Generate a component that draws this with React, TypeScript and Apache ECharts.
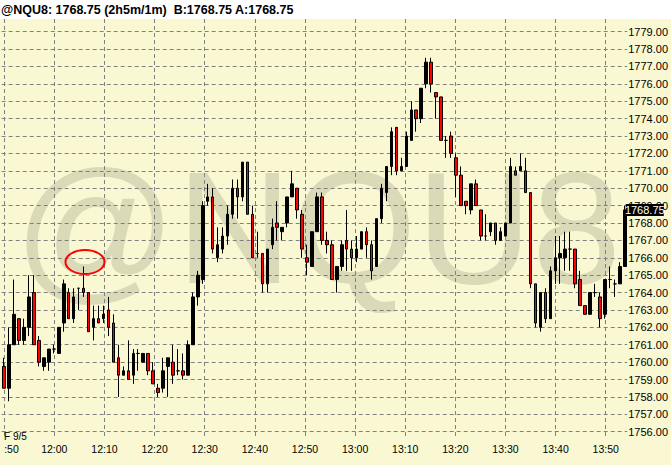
import React, { useEffect, useRef } from 'react';
import * as echarts from 'echarts';

const symbolName = '@NQU8';
const lastPrice = 1768.75;
const bidPrice = 1768.75;
const askPrice = 1768.75;
const tradeDate = 'F 9/5';
const startMinute = 11 * 60 + 50;
const barCount = 126;
const times = Array.from({ length: barCount }, (_, i) => {
  const m = startMinute + i;
  return `${Math.floor(m / 60)}:${String(m % 60).padStart(2, '0')}`;
});

const opens = [
  1759.75, 1758.5, 1761, 1762.5, 1761.25, 1762, 1764, 1761.25, 1759.75, 1760,
  1760.75, 1760.5, 1762.25, 1764, 1762.5, 1764.25, 1764.25, 1764, 1762, 1762.5,
  1762.5, 1763, 1762.25, 1760.25, 1759.25, 1759.5, 1759.25, 1760.5, 1760, 1760.5,
  1759.5, 1758.5, 1758.5, 1759.75, 1760, 1759.5, 1759.5, 1759.25, 1761, 1763.75,
  1764.75, 1769.25, 1769.5, 1766, 1766.5, 1767.25, 1768.5, 1770, 1769.5, 1771.5,
  1768.5, 1766.25, 1766.25, 1764.5, 1766.75, 1768, 1767.5, 1768, 1769.5, 1770,
  1768.5, 1766, 1765.5, 1767.5, 1769.5, 1767, 1766.75, 1764.75, 1765.5, 1767,
  1766.5, 1766, 1766.5, 1767.5, 1766.75, 1765.5, 1768.25, 1769.75, 1771.25, 1773.5,
  1771, 1771.25, 1772.75, 1774.5, 1774, 1776, 1777.25, 1775.5, 1775.25, 1772.75,
  1773, 1771.75, 1770.75, 1769.25, 1768.75, 1770.25, 1768.75, 1767.25, 1767.5, 1768,
  1767, 1767.25, 1768, 1771, 1771, 1771, 1769.75, 1764.5, 1762, 1764,
  1762.5, 1765.25, 1766, 1766, 1766.5, 1766.5, 1764.75, 1763.25, 1762.75, 1764,
  1763.75, 1762.75, 1764.75, 1764.5, 1764.5, 1765.5,
];
const closes = [
  1758.5, 1761, 1762.75, 1761.25, 1762, 1763.75, 1761, 1760, 1760.25, 1760.75,
  1760.75, 1762, 1764.5, 1762.5, 1763.75, 1764.25, 1764, 1761.75, 1762.5, 1762.25,
  1762.75, 1762, 1760, 1759.25, 1759.5, 1759, 1760.5, 1760.5, 1760.5, 1759.5,
  1758.75, 1758.25, 1759.5, 1760.25, 1759.25, 1759.5, 1759.25, 1761, 1763.75, 1765,
  1769, 1769.5, 1766.5, 1766.75, 1767.25, 1768.5, 1770, 1769.5, 1771.5, 1768.5,
  1766, 1766.25, 1764.5, 1766.5, 1767.75, 1767.75, 1767.75, 1769.5, 1770.25, 1768.75,
  1766.5, 1765.75, 1767.5, 1769.5, 1767, 1766.75, 1764.75, 1765.5, 1766.75, 1766.5,
  1766, 1766.5, 1767.5, 1766.75, 1765.25, 1768.25, 1770, 1771.25, 1773.25, 1771,
  1771.25, 1773, 1774.5, 1774, 1775.75, 1777.25, 1776, 1775.25, 1772.75, 1772.75,
  1772, 1770.75, 1769, 1769, 1770.25, 1769, 1767.25, 1767.25, 1768, 1767,
  1767.5, 1768, 1771.25, 1770.75, 1771.25, 1769.75, 1764.5, 1762.25, 1764, 1762.5,
  1765.25, 1766, 1766.25, 1766.5, 1766.5, 1764.5, 1763.25, 1762.75, 1764, 1764,
  1762.5, 1764.75, 1764.75, 1764.5, 1765.5, 1768.75,
];
const lows = [
  1758.5, 1757.75, 1761, 1761, 1761, 1761.5, 1761, 1759.75, 1759.5, 1759.5,
  1760.5, 1760.5, 1761.75, 1762.5, 1762.25, 1763, 1763.75, 1761.75, 1761.25, 1762.25,
  1762.25, 1761.5, 1760, 1758, 1759.25, 1759, 1758.75, 1759.5, 1760, 1759.25,
  1758.75, 1758, 1758.25, 1758, 1758.75, 1759.25, 1759, 1759.25, 1761, 1763.25,
  1764.5, 1769, 1766.25, 1765.75, 1766.25, 1766.75, 1768.25, 1768.25, 1769.25, 1768.5,
  1766, 1766, 1764, 1764, 1766.5, 1767, 1767, 1767.75, 1769.5, 1768.25,
  1766, 1765, 1765.5, 1767.5, 1766.75, 1766.25, 1764.75, 1764, 1765.25, 1765.25,
  1765.25, 1765.75, 1766.5, 1766, 1764.75, 1765.5, 1768, 1769.25, 1770.75, 1770.75,
  1771, 1771.25, 1772.75, 1773.25, 1773.75, 1775.75, 1775.5, 1774, 1772.75, 1771.75,
  1771.75, 1769.5, 1769, 1768.5, 1768.5, 1769, 1767, 1767, 1767.25, 1766.75,
  1767, 1767.25, 1768, 1770.75, 1771, 1769.75, 1764.25, 1762, 1761.75, 1762.25,
  1762.5, 1764.5, 1764.5, 1765.25, 1765.25, 1764.25, 1763.25, 1762.75, 1762.75, 1763.75,
  1762, 1762.5, 1764.25, 1763.75, 1764.5, 1765.5,
];
const highs = [
  1760.25, 1762, 1764.75, 1762.5, 1762.5, 1765, 1765, 1761.5, 1760.25, 1760.75,
  1761, 1762, 1764.75, 1764.25, 1764.25, 1764.25, 1765.5, 1764, 1763.25, 1763.25,
  1763.25, 1763.75, 1762.75, 1761, 1759.75, 1761.25, 1760.75, 1760.75, 1760.5, 1760.5,
  1760, 1758.75, 1760.25, 1760.25, 1761, 1760.75, 1760.5, 1761.25, 1764, 1765.25,
  1769.25, 1770.25, 1770, 1767.75, 1767.75, 1769, 1770.5, 1770.5, 1771.5, 1771.5,
  1769, 1767.5, 1766.25, 1766.5, 1768.25, 1769.25, 1767.75, 1769.5, 1771, 1770,
  1768.75, 1766.75, 1767.5, 1769.75, 1769.75, 1767.5, 1767, 1765.5, 1767, 1768.75,
  1767, 1767.25, 1767.5, 1767.75, 1767, 1768.25, 1770.25, 1771.25, 1773.5, 1773.5,
  1771.75, 1773.25, 1775, 1774.5, 1775.75, 1777.5, 1777.5, 1775.5, 1775.25, 1773,
  1773.25, 1772, 1771.25, 1769.25, 1770.25, 1770.5, 1768.75, 1768.5, 1768, 1768,
  1767.75, 1768, 1771.75, 1771.25, 1772, 1771.75, 1769.75, 1764.5, 1764, 1764.25,
  1765.5, 1767.25, 1767.25, 1767.5, 1767.5, 1766.5, 1765.25, 1763.25, 1764, 1764.5,
  1764, 1764.75, 1765.5, 1764.75, 1765.75, 1769,
];

const yMin = 1756;
const yMax = 1779;

const FONT = '"Liberation Sans Narrow", "Liberation Sans", Arial, sans-serif';
const BG = '#F9F8D2';
const gridLine = { color: '#808080', type: [4, 3] as number[], width: 1 };

export default function App() {
  const ref = useRef<HTMLDivElement>(null);
  useEffect(() => {
    if (!ref.current) return;
    const chart = echarts.init(ref.current, undefined, { renderer: 'svg' });
    const data = opens.map((o, i) => [o, closes[i], lows[i], highs[i]]);
    const title = `${symbolName}: ${lastPrice.toFixed(2)} (2h5m/1m)  B:${bidPrice.toFixed(2)} A:${askPrice.toFixed(2)}`;
    chart.setOption({
      animation: false,
      backgroundColor: BG,
      grid: [
        { left: 1.7, right: 37.7, top: 31.7, bottom: 33.3 },
        { left: 4.2, right: 40.2, top: 19, bottom: 28 },
      ],
      xAxis: [
        { type: 'category', data: times, gridIndex: 0, boundaryGap: true, show: false },
        {
          type: 'category',
          data: times,
          gridIndex: 1,
          boundaryGap: false,
          axisLine: { show: false },
          axisTick: { show: false },
          axisLabel: {
            interval: 9,
            margin: 6,
            color: '#000',
            fontSize: 10.5,
            fontFamily: FONT,
            alignMinLabel: 'left',
            formatter: (v: string, i: number) => (i === 0 ? v.slice(2) : v),
          },
          splitLine: { show: true, interval: 9, lineStyle: gridLine },
        },
      ],
      yAxis: [
        {
          type: 'value',
          gridIndex: 0,
          position: 'right',
          min: yMin,
          max: yMax,
          interval: 1,
          axisLine: { show: false },
          axisTick: { show: false },
          axisLabel: {
            margin: 1,
            color: '#000',
            fontSize: 11,
            fontFamily: FONT,
            formatter: (v: number) => v.toFixed(2),
          },
          splitLine: { show: true, lineStyle: gridLine },
        },
        { type: 'value', gridIndex: 1, show: false },
      ],
      series: [
        {
          type: 'candlestick',
          xAxisIndex: 0,
          yAxisIndex: 0,
          data,
          barWidth: 3,
          clip: false,
          itemStyle: {
            color: '#000000',
            color0: '#FF0000',
            borderColor: '#000000',
            borderColor0: '#000000',
            borderWidth: 1,
          },
          markPoint: {
            symbol: 'rect',
            symbolSize: [38, 12],
            symbolOffset: [20, 0],
            itemStyle: { color: '#000' },
            label: {
              show: true,
              position: 'inside',
              color: '#fff',
              fontSize: 11,
              fontFamily: FONT,
              formatter: () => lastPrice.toFixed(2),
            },
            data: [{ coord: [times[barCount - 1], lastPrice] }],
          },
        },
      ],
      graphic: [
        {
          type: 'text',
          x: 14,
          y: 227,
          z: -10,
          silent: true,
          style: {
            text: symbolName,
            fill: '#DAD9B8',
            fontSize: 160,
            fontFamily: '"Liberation Sans", Arial, sans-serif',
            textVerticalAlign: 'middle',
          },
        },
        {
          type: 'rect',
          z: 50,
          shape: { x: 0, y: 0, width: 671, height: 19 },
          style: { fill: '#FFFFFF' },
        },
        {
          type: 'text',
          x: 1,
          y: 9.5,
          z: 51,
          style: {
            text: title,
            fill: '#000',
            fontSize: 12.5,
            fontWeight: 'bold',
            fontFamily: '"Liberation Sans", Arial, sans-serif',
            textVerticalAlign: 'middle',
          },
        },
        {
          type: 'text',
          x: 4,
          y: 436,
          z: 51,
          style: {
            text: tradeDate,
            fill: '#000',
            fontSize: 10,
            fontFamily: FONT,
            textVerticalAlign: 'middle',
          },
        },
        {
          type: 'ellipse',
          z: 100,
          shape: { cx: 85, cy: 262, rx: 19.5, ry: 12 },
          style: { fill: 'none', stroke: '#FF0000', lineWidth: 2 },
        },
      ],
    });
    return () => chart.dispose();
  }, []);
  return (
    <div
      ref={ref}
      style={{ position: 'absolute', left: 0, top: 0, width: 671, height: 465 }}
    />
  );
}
